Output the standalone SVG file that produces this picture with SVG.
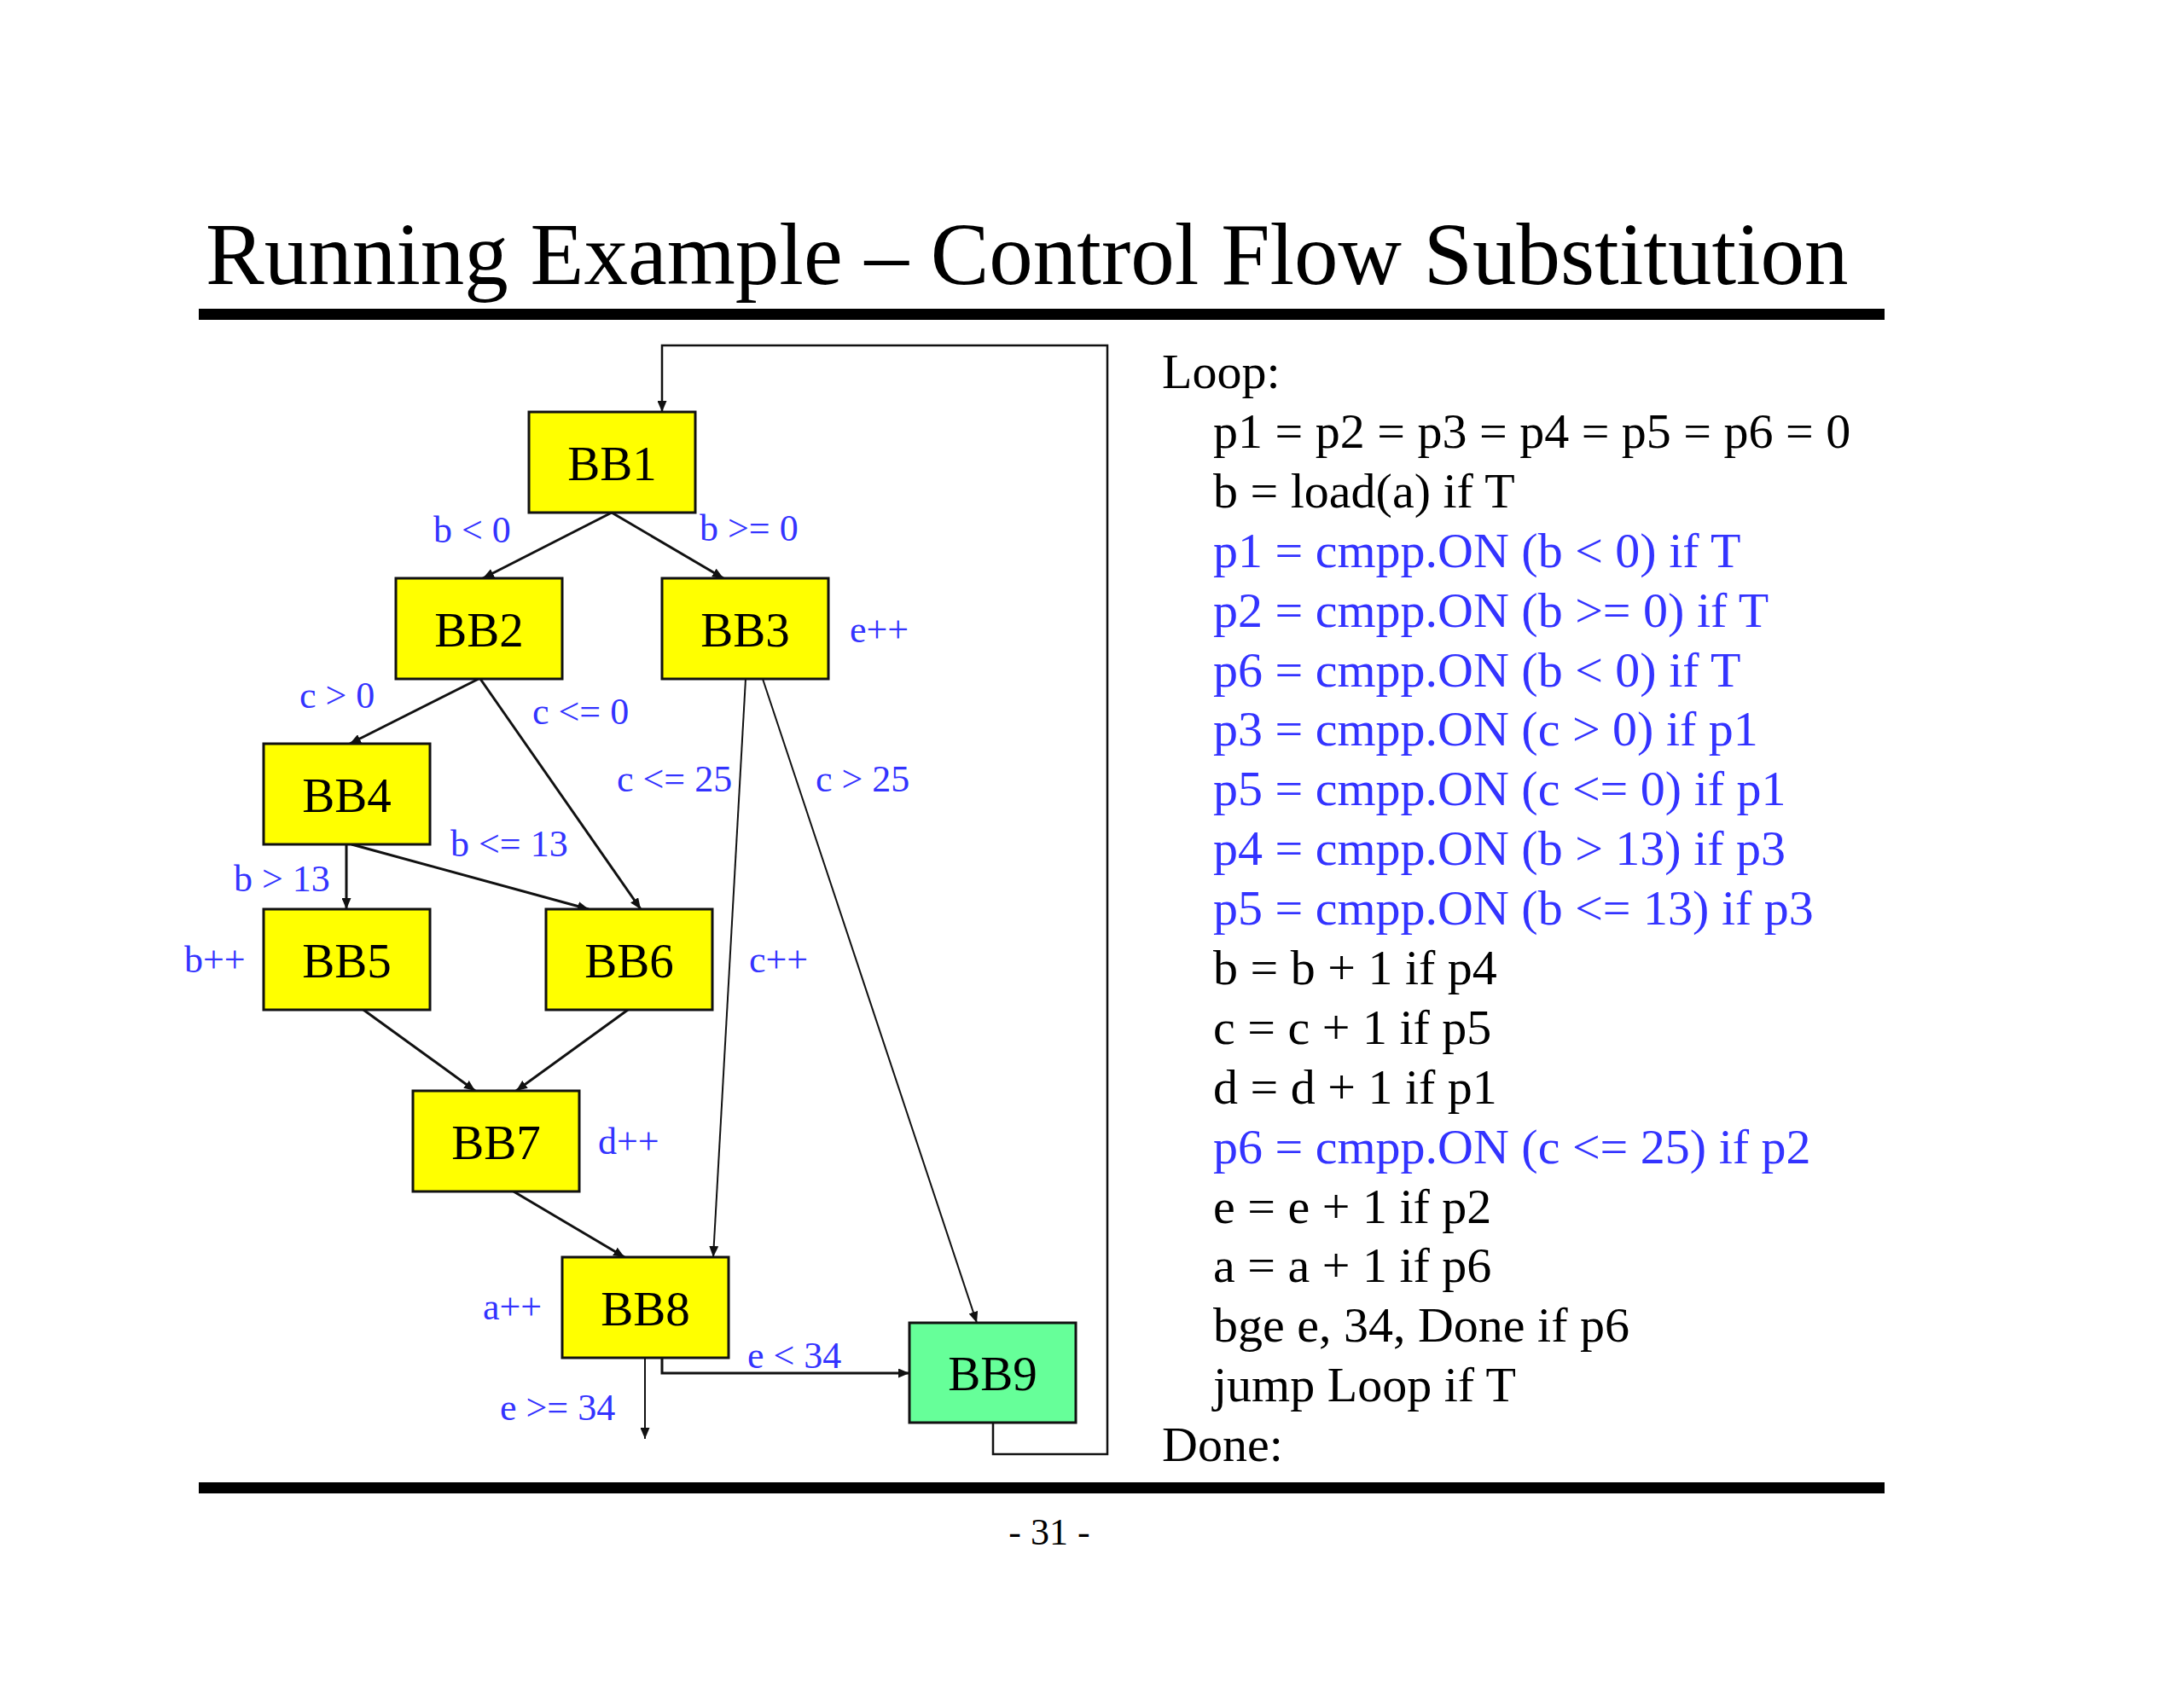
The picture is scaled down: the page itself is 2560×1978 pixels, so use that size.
<svg xmlns="http://www.w3.org/2000/svg" width="2560" height="1978" viewBox="0 0 2560 1978">
<style>
.title{font-family:"Liberation Serif","Times New Roman",serif;font-size:103px;fill:#000}
.node rect{stroke:#111;stroke-width:3}
.yellow{fill:#FFFF00}
.green{fill:#66FF99}
.nlabel{font-family:"Liberation Serif","Times New Roman",serif;font-size:57px;fill:#000;text-anchor:middle}
.elabel{font-family:"Liberation Serif","Times New Roman",serif;font-size:44px;fill:#3333FF}
.code{font-family:"Liberation Serif","Times New Roman",serif;font-size:58px;fill:#000}
.blue{fill:#3333FF}
.edge{fill:none;stroke:#111;stroke-width:3;marker-end:url(#arr)}
.thin{stroke-width:2}
.loop{fill:none;stroke:#111;stroke-width:2.5;marker-end:url(#arr)}
.rule{fill:#000}
.pnum{font-family:"Liberation Serif","Times New Roman",serif;font-size:44px;fill:#000;text-anchor:middle}
</style>
<defs>
<marker id="arr" markerUnits="userSpaceOnUse" markerWidth="13" markerHeight="11" refX="13" refY="5.5" orient="auto">
<path d="M0,0 L13,5.5 L0,11 z" fill="#111"/>
</marker>
</defs>
<rect width="2560" height="1978" fill="#fff"/>
<text class="title" x="241" y="333">Running Example – Control Flow Substitution</text>
<rect class="rule" x="233" y="362" width="1976" height="13"/>
<rect class="rule" x="233" y="1738" width="1976" height="13"/>
<text class="pnum" x="1230" y="1811">- 31 -</text>

<g id="connectors">
<path class="edge" d="M717,601 L566,678"/>
<path class="edge" d="M717,601 L848,678"/>
<path class="edge" d="M561,796 L410,872"/>
<path class="edge" d="M563,796 L751,1066"/>
<path class="edge" d="M406,990 L406,1066"/>
<path class="edge" d="M412,990 L690,1066"/>
<path class="edge thin" d="M874,796 L836,1474"/>
<path class="edge thin" d="M894,796 L1145,1551"/>
<path class="edge" d="M426,1184 L557,1279"/>
<path class="edge" d="M736,1184 L605,1279"/>
<path class="edge" d="M602,1397 L732,1474"/>
<path class="edge" d="M776,1592 V1610 H1066"/>
<path class="edge thin" d="M756,1592 V1687"/>
<path class="loop" d="M1164,1669 V1705 H1298 V405 H776 V483"/>
</g>

<g id="edge-labels">
<text class="elabel" x="508" y="636">b &lt; 0</text>
<text class="elabel" x="820" y="634">b &gt;= 0</text>
<text class="elabel" x="996" y="753">e++</text>
<text class="elabel" x="351" y="830">c &gt; 0</text>
<text class="elabel" x="624" y="849">c &lt;= 0</text>
<text class="elabel" x="723" y="928">c &lt;= 25</text>
<text class="elabel" x="956" y="928">c &gt; 25</text>
<text class="elabel" x="528" y="1004">b &lt;= 13</text>
<text class="elabel" x="274" y="1045">b &gt; 13</text>
<text class="elabel" x="216" y="1140">b++</text>
<text class="elabel" x="878" y="1140">c++</text>
<text class="elabel" x="701" y="1353">d++</text>
<text class="elabel" x="566" y="1547">a++</text>
<text class="elabel" x="876" y="1604">e &lt; 34</text>
<text class="elabel" x="586" y="1665">e &gt;= 34</text>
</g>

<g id="BB1" class="node"><rect class="yellow" x="620" y="483" width="195" height="118"/><text class="nlabel" x="717.5" y="563">BB1</text></g>
<g id="BB2" class="node"><rect class="yellow" x="464" y="678" width="195" height="118"/><text class="nlabel" x="561.5" y="758">BB2</text></g>
<g id="BB3" class="node"><rect class="yellow" x="776" y="678" width="195" height="118"/><text class="nlabel" x="873.5" y="758">BB3</text></g>
<g id="BB4" class="node"><rect class="yellow" x="309" y="872" width="195" height="118"/><text class="nlabel" x="406.5" y="952">BB4</text></g>
<g id="BB5" class="node"><rect class="yellow" x="309" y="1066" width="195" height="118"/><text class="nlabel" x="406.5" y="1146">BB5</text></g>
<g id="BB6" class="node"><rect class="yellow" x="640" y="1066" width="195" height="118"/><text class="nlabel" x="737.5" y="1146">BB6</text></g>
<g id="BB7" class="node"><rect class="yellow" x="484" y="1279" width="195" height="118"/><text class="nlabel" x="581.5" y="1359">BB7</text></g>
<g id="BB8" class="node"><rect class="yellow" x="659" y="1474" width="195" height="118"/><text class="nlabel" x="756.5" y="1554">BB8</text></g>
<g id="BB9" class="node"><rect class="green" x="1066" y="1551" width="195" height="117"/><text class="nlabel" x="1163.5" y="1630">BB9</text></g>

<g id="code">
<text class="code" x="1362" y="455">Loop:</text>
<text class="code" x="1422" y="525">p1 = p2 = p3 = p4 = p5 = p6 = 0</text>
<text class="code" x="1422" y="595">b = load(a) if T</text>
<text class="code blue" x="1422" y="665">p1 = cmpp.ON (b &lt; 0) if T</text>
<text class="code blue" x="1422" y="735">p2 = cmpp.ON (b &gt;= 0) if T</text>
<text class="code blue" x="1422" y="805">p6 = cmpp.ON (b &lt; 0) if T</text>
<text class="code blue" x="1422" y="874">p3 = cmpp.ON (c &gt; 0) if p1</text>
<text class="code blue" x="1422" y="944">p5 = cmpp.ON (c &lt;= 0) if p1</text>
<text class="code blue" x="1422" y="1014">p4 = cmpp.ON (b &gt; 13) if p3</text>
<text class="code blue" x="1422" y="1084">p5 = cmpp.ON (b &lt;= 13) if p3</text>
<text class="code" x="1422" y="1154">b = b + 1 if p4</text>
<text class="code" x="1422" y="1224">c = c + 1 if p5</text>
<text class="code" x="1422" y="1294">d = d + 1 if p1</text>
<text class="code blue" x="1422" y="1364">p6 = cmpp.ON (c &lt;= 25) if p2</text>
<text class="code" x="1422" y="1434">e = e + 1 if p2</text>
<text class="code" x="1422" y="1503">a = a + 1 if p6</text>
<text class="code" x="1422" y="1573">bge e, 34, Done if p6</text>
<text class="code" x="1422" y="1643">jump Loop if T</text>
<text class="code" x="1362" y="1713">Done:</text>
</g>
</svg>
